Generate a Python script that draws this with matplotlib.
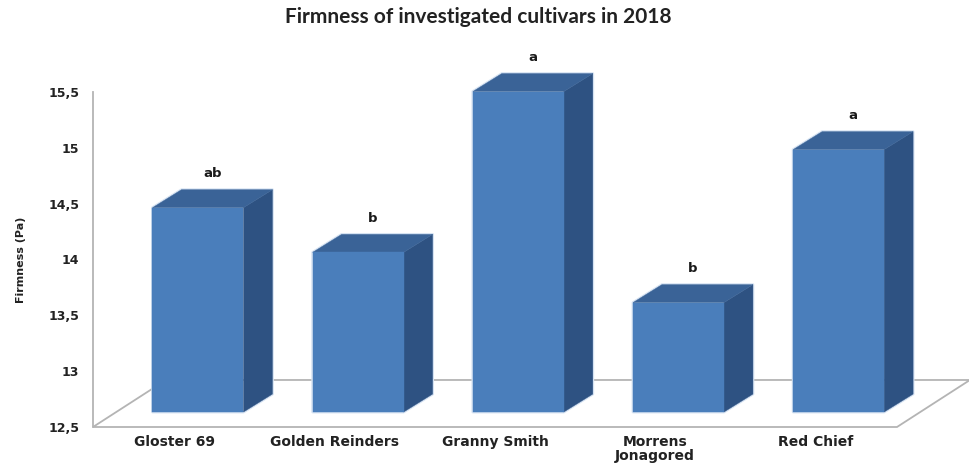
import matplotlib
matplotlib.use("Agg")
import matplotlib.pyplot as plt
from matplotlib.patches import Polygon
from matplotlib.ticker import FuncFormatter

# Cultivar data
cultivars = ["Gloster 69", "Golden Reinders", "Granny Smith", "Morrens\nJonagored", "Red Chief"]
firmness = [14.33, 13.93, 15.37, 13.48, 14.85]
letters = ["ab", "b", "a", "b", "a"]
y_ticks = [12.5, 13.0, 13.5, 14.0, 14.5, 15.0, 15.5]

# Pseudo-3D geometry (data units: x = category, y = firmness)
FLOOR_DX, FLOOR_DY = 0.4555, 0.421      # full depth of the floor
FRONT_DX, FRONT_DY = 0.1455, 0.134      # depth of the bar's front face
BAR_DX, BAR_DY = 0.181, 0.161           # depth of each bar
HALF_W = 0.284
X_MIN, X_MAX = -0.51, 4.51
Y_MIN, Y_MAX = 12.5, 15.5

FRONT_C = "#4a7ebb"
TOP_C = "#3a6397"
SIDE_C = "#2e5282"
GLOW_C = "#d5e2f2"
LINE_C = "#b4b4b4"
TEXT_FONT = "DejaVu Sans"

fig = plt.figure(figsize=(9.7, 4.67), dpi=100)
ax = fig.add_axes([93 / 970, 40 / 467, 804 / 970, 335 / 467])
ax.set_xlim(X_MIN, X_MAX)
ax.set_ylim(Y_MIN, Y_MAX)

# Floor
floor = Polygon([(X_MIN, Y_MIN), (X_MAX, Y_MIN),
                 (X_MAX + FLOOR_DX, Y_MIN + FLOOR_DY),
                 (X_MIN + FLOOR_DX, Y_MIN + FLOOR_DY)],
                closed=True, facecolor="white", edgecolor=LINE_C,
                linewidth=1.3, clip_on=False, zorder=1)
ax.add_patch(floor)

# Bars
for i, (v, lab) in enumerate(zip(firmness, letters)):
    x0 = i + FRONT_DX - HALF_W
    x1 = i + FRONT_DX + HALF_W
    yb = Y_MIN + FRONT_DY
    yt = v + FRONT_DY
    outline = Polygon([(x0, yb), (x1, yb), (x1 + BAR_DX, yb + BAR_DY),
                       (x1 + BAR_DX, yt + BAR_DY), (x0 + BAR_DX, yt + BAR_DY), (x0, yt)],
                      facecolor="none", edgecolor=GLOW_C, linewidth=2.0,
                      joinstyle="round", clip_on=False, zorder=2)
    front = Polygon([(x0, yb), (x1, yb), (x1, yt), (x0, yt)],
                    facecolor=FRONT_C, edgecolor=FRONT_C, linewidth=0.3,
                    clip_on=False, zorder=3)
    top = Polygon([(x0, yt), (x1, yt), (x1 + BAR_DX, yt + BAR_DY), (x0 + BAR_DX, yt + BAR_DY)],
                  facecolor=TOP_C, edgecolor=TOP_C, linewidth=0.3,
                  clip_on=False, zorder=3)
    side = Polygon([(x1, yb), (x1 + BAR_DX, yb + BAR_DY), (x1 + BAR_DX, yt + BAR_DY), (x1, yt)],
                   facecolor=SIDE_C, edgecolor=SIDE_C, linewidth=0.3,
                   clip_on=False, zorder=3)
    for p in (outline, side, top, front):
        ax.add_patch(p)
    ax.annotate(lab, xy=(i + FRONT_DX + BAR_DX / 2, yt + BAR_DY),
                xytext=(0, 7), textcoords="offset points",
                ha="center", va="bottom", fontsize=9.5, fontweight="bold",
                family=TEXT_FONT, color="#1a1a1a",
                annotation_clip=False, zorder=4)

# Axes styling
for s in ("top", "right", "bottom"):
    ax.spines[s].set_visible(False)
ax.spines["left"].set_color(LINE_C)
ax.spines["left"].set_linewidth(1.3)

ax.set_yticks(y_ticks)
ax.yaxis.set_major_formatter(FuncFormatter(
    lambda v, _: (f"{v:g}").replace(".", ",")))
ax.set_xticks(range(len(cultivars)))
ax.set_xticklabels(cultivars)
ax.tick_params(axis="both", length=0)
ax.tick_params(axis="y", pad=10)
ax.tick_params(axis="x", pad=6)
for t in ax.get_yticklabels():
    t.set_fontfamily(TEXT_FONT)
    t.set_fontweight("bold")
    t.set_fontsize(9)
    t.set_color("#222222")
for t in ax.get_xticklabels():
    t.set_fontfamily(TEXT_FONT)
    t.set_fontweight("bold")
    t.set_fontsize(10)
    t.set_color("#222222")
    t.set_linespacing(1.0)

ax.set_ylabel("Firmness (Pa)", fontsize=8, fontweight="bold",
              family=TEXT_FONT, color="#222222", labelpad=16)

fig.text(478 / 970, 1 - 17 / 467, "Firmness of investigated cultivars in 2018",
         ha="center", va="center", fontsize=15, fontweight="bold",
         family="Lato", color="#222222")

fig.savefig("out.png", dpi=100, facecolor="white")
